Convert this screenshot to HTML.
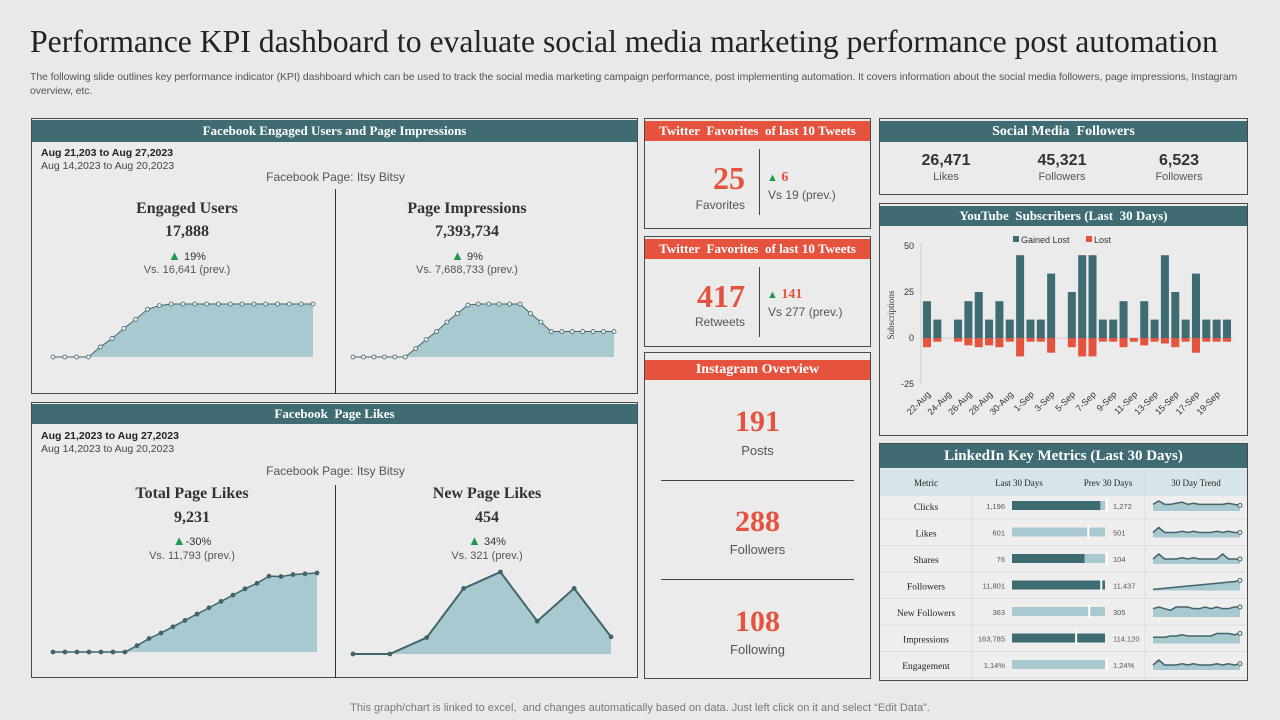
<!DOCTYPE html>
<html><head><meta charset="utf-8">
<style>
*{margin:0;padding:0;box-sizing:border-box}
body{width:1280px;height:720px;background:#e9e9e9;font-family:"Liberation Sans",sans-serif;position:relative;overflow:hidden;color:#333}
.a{position:absolute}
.panel{position:absolute;border:1px solid #4a4a4a;background:#ebebeb}
.hd{position:absolute;left:0;right:0;color:#fff;font-family:"Liberation Serif",serif;font-weight:bold;text-align:center;font-size:13px}
.teal{background:#3f6b73}
.red{background:#e5533f}
.c{text-align:center;white-space:nowrap}
.serif{font-family:"Liberation Serif",serif}
svg text{font-family:"Liberation Sans",sans-serif}
</style></head><body>
<div class="a serif" style="left:30px;top:24px;font-size:31.7px;color:#222;white-space:nowrap">Performance KPI dashboard to evaluate social media marketing performance post automation</div>
<div class="a" style="left:30px;top:70px;width:1225px;font-size:10.5px;letter-spacing:-0.1px;color:#555;line-height:14px">The following slide outlines key performance indicator (KPI) dashboard which can be used to track the social media marketing campaign performance, post implementing automation. It covers information about the social media followers, page impressions, Instagram overview, etc.</div>

<!-- FB engaged -->
<div class="panel" style="left:31px;top:118px;width:607px;height:276px">
<div class="hd teal" style="top:1px;height:22px;line-height:22px">Facebook Engaged Users and Page Impressions</div>
<div class="a" style="left:9px;top:28px;font-size:10.5px;font-weight:bold;color:#222">Aug 21,203 to Aug 27,2023</div>
<div class="a" style="left:9px;top:41px;font-size:10.5px;color:#444">Aug 14,2023 to Aug 20,2023</div>
<div class="a c" style="left:0;width:607px;top:51px;font-size:12px;color:#555">Facebook Page: Itsy Bitsy</div>
<div class="a" style="left:303px;top:70px;width:1px;height:205px;background:#333"></div>
<div class="a c serif" style="left:50px;width:210px;top:81px;font-size:16px;font-weight:bold">Engaged Users</div>
<div class="a c serif" style="left:50px;width:210px;top:104px;font-size:16px;font-weight:bold">17,888</div>
<div class="a c" style="left:50px;width:210px;top:129px;font-size:11px"><span style="color:#1e9a4a;font-size:13px">▲</span> 19%</div>
<div class="a c" style="left:50px;width:210px;top:145px;font-size:11px;color:#555">Vs. 16,641 (prev.)</div>
<div class="a c serif" style="left:330px;width:210px;top:81px;font-size:16px;font-weight:bold">Page Impressions</div>
<div class="a c serif" style="left:330px;width:210px;top:104px;font-size:16px;font-weight:bold">7,393,734</div>
<div class="a c" style="left:330px;width:210px;top:129px;font-size:11px"><span style="color:#1e9a4a;font-size:13px">▲</span> 9%</div>
<div class="a c" style="left:330px;width:210px;top:145px;font-size:11px;color:#555">Vs. 7,688,733 (prev.)</div>
</div>

<!-- FB likes -->
<div class="panel" style="left:31px;top:402px;width:607px;height:276px">
<div class="hd teal" style="top:1px;height:20px;line-height:20px">Facebook&nbsp; Page Likes</div>
<div class="a" style="left:9px;top:27px;font-size:10.5px;font-weight:bold;color:#222">Aug 21,2023 to Aug 27,2023</div>
<div class="a" style="left:9px;top:40px;font-size:10.5px;color:#444">Aug 14,2023 to Aug 20,2023</div>
<div class="a c" style="left:0;width:607px;top:61px;font-size:12px;color:#555">Facebook Page: Itsy Bitsy</div>
<div class="a" style="left:303px;top:82px;width:1px;height:193px;background:#333"></div>
<div class="a c serif" style="left:50px;width:220px;top:82px;font-size:16px;font-weight:bold">Total Page Likes</div>
<div class="a c serif" style="left:50px;width:220px;top:106px;font-size:16px;font-weight:bold">9,231</div>
<div class="a c" style="left:50px;width:220px;top:130px;font-size:11px"><span style="color:#1e9a4a;font-size:13px">▲</span>-30%</div>
<div class="a c" style="left:50px;width:220px;top:147px;font-size:11px;color:#555">Vs. 11,793 (prev.)</div>
<div class="a c serif" style="left:345px;width:220px;top:82px;font-size:16px;font-weight:bold">New Page Likes</div>
<div class="a c serif" style="left:345px;width:220px;top:106px;font-size:16px;font-weight:bold">454</div>
<div class="a c" style="left:345px;width:220px;top:130px;font-size:11px"><span style="color:#1e9a4a;font-size:13px">▲</span> 34%</div>
<div class="a c" style="left:345px;width:220px;top:147px;font-size:11px;color:#555">Vs. 321 (prev.)</div>
</div>

<!-- Twitter 1 -->
<div class="panel" style="left:644px;top:118px;width:227px;height:111px">
<div class="hd red" style="top:2px;height:20px;line-height:20px">Twitter&nbsp; Favorites&nbsp; of last 10 Tweets</div>
<div class="a serif" style="right:125px;top:41px;font-size:32px;font-weight:bold;color:#e5533f">25</div>
<div class="a" style="right:125px;top:79px;font-size:12px;color:#555">Favorites</div>
<div class="a" style="left:114px;top:30px;width:1px;height:66px;background:#444"></div>
<div class="a serif" style="left:122px;top:51px;font-size:14px;font-weight:bold;color:#e5533f"><span style="color:#1e9a4a;font-size:11px">▲</span> 6</div>
<div class="a" style="left:123px;top:69px;font-size:12px;color:#555">Vs 19 (prev.)</div>
</div>
<!-- Twitter 2 -->
<div class="panel" style="left:644px;top:236px;width:227px;height:111px">
<div class="hd red" style="top:2px;height:20px;line-height:20px">Twitter&nbsp; Favorites&nbsp; of last 10 Tweets</div>
<div class="a serif" style="right:125px;top:41px;font-size:32px;font-weight:bold;color:#e5533f">417</div>
<div class="a" style="right:125px;top:78px;font-size:12px;color:#555">Retweets</div>
<div class="a" style="left:114px;top:30px;width:1px;height:70px;background:#444"></div>
<div class="a serif" style="left:122px;top:50px;font-size:14px;font-weight:bold;color:#e5533f"><span style="color:#1e9a4a;font-size:11px">▲</span> 141</div>
<div class="a" style="left:123px;top:68px;font-size:12px;color:#555">Vs 277 (prev.)</div>
</div>
<!-- Instagram -->
<div class="panel" style="left:644px;top:352px;width:227px;height:327px">
<div class="hd red" style="top:7px;height:20px;line-height:20px;font-size:14px">Instagram Overview</div>
<div class="a c serif" style="left:0;width:225px;top:52px;font-size:30px;font-weight:bold;color:#e5533f">191</div>
<div class="a c" style="left:0;width:225px;top:90px;font-size:13px;color:#555">Posts</div>
<div class="a" style="left:16px;top:127px;width:193px;height:1px;background:#444"></div>
<div class="a c serif" style="left:0;width:225px;top:152px;font-size:30px;font-weight:bold;color:#e5533f">288</div>
<div class="a c" style="left:0;width:225px;top:189px;font-size:13px;color:#555">Followers</div>
<div class="a" style="left:16px;top:226px;width:193px;height:1px;background:#444"></div>
<div class="a c serif" style="left:0;width:225px;top:252px;font-size:30px;font-weight:bold;color:#e5533f">108</div>
<div class="a c" style="left:0;width:225px;top:289px;font-size:13px;color:#555">Following</div>
</div>

<!-- Social followers -->
<div class="panel" style="left:879px;top:118px;width:369px;height:77px">
<div class="hd teal" style="top:2px;height:21px;line-height:21px;font-size:14px">Social Media&nbsp; Followers</div>
<div class="a c" style="left:16px;width:100px;top:33px;font-size:16px;font-weight:bold">26,471</div>
<div class="a c" style="left:16px;width:100px;top:52px;font-size:11px;color:#555">Likes</div>
<div class="a c" style="left:132px;width:100px;top:33px;font-size:16px;font-weight:bold">45,321</div>
<div class="a c" style="left:132px;width:100px;top:52px;font-size:11px;color:#555">Followers</div>
<div class="a c" style="left:249px;width:100px;top:33px;font-size:16px;font-weight:bold">6,523</div>
<div class="a c" style="left:249px;width:100px;top:52px;font-size:11px;color:#555">Followers</div>
</div>

<!-- YouTube -->
<div class="panel" style="left:879px;top:203px;width:369px;height:233px">
<div class="hd teal" style="top:2px;height:20px;line-height:20px">YouTube&nbsp; Subscribers (Last&nbsp; 30 Days)</div>
</div>

<!-- LinkedIn -->
<div class="panel" style="left:879px;top:443px;width:369px;height:238px;background:#eee">
<div class="hd teal" style="top:0px;height:24px;line-height:24px;font-size:15px">LinkedIn Key Metrics (Last 30 Days)</div>
<div class="a" style="left:0;right:0;top:25px;height:27px;background:#d7e5ea"></div>
</div>

<svg class="a" style="left:0;top:0" width="1280" height="720" id="svg"></svg>

<div class="a c" style="left:0;width:1280px;top:702px;font-size:11px;color:#777">This graph/chart is linked to excel,&nbsp; and changes automatically based on data. Just left click on it and select “Edit Data”.</div>

<script>
// Sparkline data (0-100 scale)
const engagedUsers=[0,0,0,0,19,35,54,71,90,97,100,100,100,100,100,100,100,100,100,100,100,100,100];
const pageImpressions=[0,0,0,0,0,0,16,33,48,66,82,98,100,100,100,100,100,82,66,48,48,48,48,48,48,48];
const totalLikes=[0,0,0,0,0,0,0,8,17,24,32,40,48,56,64,72,80,87,96,95.5,98,99,100];
const newLikes=[0,0,20,80,100,40,80,21];
// YouTube data
const ytDays=['22-Aug','23-Aug','24-Aug','25-Aug','26-Aug','27-Aug','28-Aug','29-Aug','30-Aug','31-Aug','1-Sep','2-Sep','3-Sep','4-Sep','5-Sep','6-Sep','7-Sep','8-Sep','9-Sep','10-Sep','11-Sep','12-Sep','13-Sep','14-Sep','15-Sep','16-Sep','17-Sep','18-Sep','19-Sep','20-Sep'];
const ytGained=[20,10,0,10,20,25,10,20,10,45,10,10,35,0,25,45,45,10,10,20,0,20,10,45,25,10,35,10,10,10];
const ytLost=[5,2,0,2,4,5,4,5,2,10,2,2,8,0,5,10,10,2,2,5,2,4,2,3,5,2,8,2,2,2];
const ytTicks=[50,25,0,-25];
// LinkedIn data
const liMetrics=['Clicks','Likes','Shares','Followers','New Followers','Impressions','Engagement'];
const liLast=['1,196','601','76','11,801','363','163,785','1,14%'];
const liPrev=['1,272','501','104','11,437','305','114,120','1,24%'];
const liBarPct=[95,100,78,100,100,100,89];
const liTargetPct=[102,82,102,96,83,69,102];
const liDark=[true,false,true,true,false,true,false];
const liTrend=[
[6,9,6,6,7,8,6,7,6,6,6,6,6,7,6,5],
[4,8,4,4,4,5,4,5,4,4,4,5,4,5,4,4],
[4,8,4,4,4,5,4,5,4,4,4,4,8,4,4,4],
[2,3,4,5,6,7,8,9,10,11,12,13,14,15,16,18],
[5,6,5,4,6,6,6,5,5,6,5,6,5,5,6,6],
[5,5,5,6,6,7,6,6,6,6,6,8,8,8,7,8],
[4,8,4,4,4,5,4,5,4,4,4,5,4,5,4,5]
];

const NS='http://www.w3.org/2000/svg';
const svg=document.getElementById('svg');
function el(tag,attrs,parent){const e=document.createElementNS(NS,tag);for(const k in attrs)e.setAttribute(k,attrs[k]);(parent||svg).appendChild(e);return e;}

function spark(data,x0,x1,yTop,yBase,dots,dotFill,name,lineW){
  const g=el('g',{});
  
  
  const sx=i=>x0+(x1-x0)*i/(data.length-1);
  const sy=v=>yBase-(yBase-yTop)*v/100;
  let pts=data.map((v,i)=>sx(i)+','+sy(v));
  const start=data.findIndex(v=>v>0);
  const fs=Math.max(0,start-1);
  let area='M'+sx(fs)+','+yBase;
  for(let i=fs;i<data.length;i++)area+=' L'+sx(i)+','+sy(data[i]);
  area+=' L'+sx(data.length-1)+','+yBase+' Z';
  const a=el('path',{d:area,fill:'#a9c9d1'},g);
  
  
  const l=el('polyline',{points:pts.join(' '),fill:'none',stroke:'#43646b','stroke-width':lineW||1},g);
  
  
  if(dots){data.forEach((v,i)=>{const c=el('circle',{cx:sx(i),cy:sy(v),r:2,fill:dotFill,stroke:'#43646b','stroke-width':0.8},g);
    
    });}
}
spark(engagedUsers,53,313,304,357,true,'#eee','engaged-users-sparkline');
spark(pageImpressions,353,614,304,357,true,'#eee','page-impressions-sparkline');
spark(totalLikes,53,317,573,652,true,'#43646b','total-likes-sparkline',1.5);
spark(newLikes,353,611,572,654,true,'#43646b','new-likes-sparkline',2);

// YouTube chart
const yv=v=>338-v*1.84;
const xb=i=>927+i*(300/29);
el('line',{x1:921,y1:yv(50)-3,x2:921,y2:yv(-25),stroke:'#ccc'});
el('line',{x1:921,y1:yv(0),x2:1233,y2:yv(0),stroke:'#ccc'});
ytTicks.forEach(t=>{const tx=el('text',{x:914,y:yv(t)+3,'font-size':9,fill:'#333','text-anchor':'end'});tx.textContent=t;
  
  });
const yt=el('text',{x:894,y:315,'font-size':9,fill:'#333','text-anchor':'middle',transform:'rotate(-90 894 315)',style:'font-family:Liberation Serif,serif'});yt.textContent='Subscriptions';


ytGained.forEach((v,i)=>{if(v>0){const r=el('rect',{x:xb(i)-4,y:yv(v),width:8,height:yv(0)-yv(v),fill:'#3f6b73'});
  
  }});
ytLost.forEach((v,i)=>{if(v>0){const r=el('rect',{x:xb(i)-4,y:yv(0),width:8,height:v*1.84,fill:'#e5533f'});
  
  }});
ytDays.forEach((d,i)=>{if(i%2)return;const x=xb(i)+4,y=395;const t=el('text',{x:x,y:y,'font-size':9,fill:'#333','text-anchor':'end',transform:`rotate(-45 ${x} ${y})`});t.textContent=d;
  
  });
const lg1=el('rect',{x:1013,y:236,width:6,height:6,fill:'#3f6b73'});


const lt1=el('text',{x:1021,y:243,'font-size':9,fill:'#333'});lt1.textContent='Gained Lost';


const lg2=el('rect',{x:1086,y:236,width:6,height:6,fill:'#e5533f'});


const lt2=el('text',{x:1094,y:243,'font-size':9,fill:'#333'});lt2.textContent='Lost';



// LinkedIn table
const hdrs=[['Metric',926],['Last 30 Days',1019],['Prev  30 Days',1108],['30 Day Trend',1196]];
hdrs.forEach(h=>{const t=el('text',{x:h[1],y:486,'font-size':9,fill:'#222','text-anchor':'middle',style:'font-family:Liberation Serif,serif'});t.textContent=h[0];
  
  });
el('line',{x1:972,y1:469,x2:972,y2:680,stroke:'#ddd'});
el('line',{x1:1145,y1:469,x2:1145,y2:680,stroke:'#ddd'});
const rowY=i=>506+i*26.5;
liMetrics.forEach((m,i)=>{
  const cy=rowY(i);
  el('line',{x1:880,y1:cy+13,x2:1247,y2:cy+13,stroke:'#ddd'});
  const t=el('text',{x:926,y:cy+4,'font-size':9.5,fill:'#222','text-anchor':'middle',style:'font-family:Liberation Serif,serif'});t.textContent=m;
  
  
  const a=el('text',{x:1005,y:cy+3,'font-size':7.5,fill:'#555','text-anchor':'end'});a.textContent=liLast[i];
  
  
  const b=el('text',{x:1113,y:cy+3,'font-size':7.5,fill:'#555'});b.textContent=liPrev[i];
  
  
  const bx=1012,bw=93;
  el('rect',{x:bx,y:cy-5,width:bw,height:9,fill:'#a9c9d1'});
  if(liDark[i]){const r=el('rect',{x:bx,y:cy-5,width:bw*liBarPct[i]/100,height:9,fill:'#3f6b73'});
    
    }
  const mk=el('rect',{x:bx+bw*liTargetPct[i]/100-1,y:cy-7,width:2,height:13,fill:'#fff'});
  
  
  const d=liTrend[i],mx=Math.max(...d);
  const sx=k=>1153+k*(87/(d.length-1)), sy=v=>cy+5-v/mx*10;
  let p='M'+sx(0)+','+(cy+5);d.forEach((v,k)=>p+=' L'+sx(k)+','+sy(v));p+=' L'+sx(d.length-1)+','+(cy+5)+' Z';
  el('path',{d:p,fill:'#a9c9d1'});
  const pl=el('polyline',{points:d.map((v,k)=>sx(k)+','+sy(v)).join(' '),fill:'none',stroke:'#43646b','stroke-width':1.5});
  
  
  el('circle',{cx:sx(d.length-1),cy:sy(d[d.length-1]),r:2,fill:'#eee',stroke:'#43646b'});
});
</script>
</body></html>
